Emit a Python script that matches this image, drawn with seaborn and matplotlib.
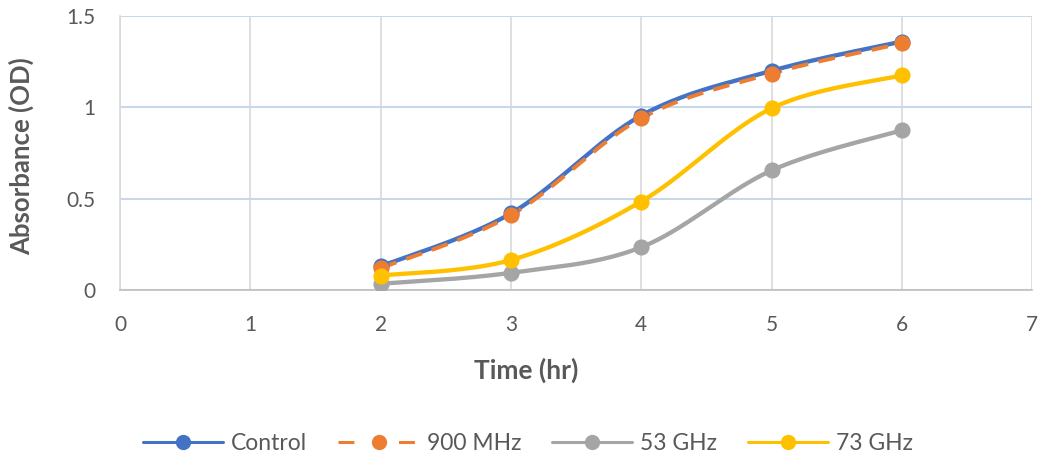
import numpy as np
import pandas as pd
import seaborn as sns
import matplotlib.pyplot as plt
from matplotlib.lines import Line2D

# Data
time_hr = [2, 3, 4, 5, 6]
control = [0.13, 0.42, 0.955, 1.20, 1.36]
mhz_900 = [0.12, 0.41, 0.94, 1.185, 1.35]
ghz_53 = [0.035, 0.095, 0.235, 0.655, 0.875]
ghz_73 = [0.08, 0.165, 0.485, 0.995, 1.175]

series_names = ['Control', '900 MHz', '53 GHz', '73 GHz']
series_values = [control, mhz_900, ghz_53, ghz_73]
colors = ['#4472C4', '#ED7D31', '#A5A5A5', '#FFC000']


def smooth(x, y, n=40):
    # Catmull-Rom style smoothing, like Excel's "smoothed line"
    x = np.asarray(x, float)
    y = np.asarray(y, float)
    px = np.concatenate([[x[0]], x, [x[-1]]])
    py = np.concatenate([[y[0]], y, [y[-1]]])
    xs, ys = [], []
    t = np.linspace(0, 1, n)
    for i in range(1, len(px) - 2):
        p0x, p1x, p2x, p3x = px[i - 1:i + 3]
        p0y, p1y, p2y, p3y = py[i - 1:i + 3]
        c1x, c1y = p1x + (p2x - p0x) / 6, p1y + (p2y - p0y) / 6
        c2x, c2y = p2x - (p3x - p1x) / 6, p2y - (p3y - p1y) / 6
        bx = (1 - t) ** 3 * p1x + 3 * (1 - t) ** 2 * t * c1x + 3 * (1 - t) * t ** 2 * c2x + t ** 3 * p2x
        by = (1 - t) ** 3 * p1y + 3 * (1 - t) ** 2 * t * c1y + 3 * (1 - t) * t ** 2 * c2y + t ** 3 * p2y
        xs.extend(bx)
        ys.extend(by)
    return xs, ys


sns.set_style('white')
plt.rcParams['font.family'] = ['Lato', 'DejaVu Sans']

fig = plt.figure(figsize=(10.4, 4.57), dpi=100)
ax = fig.add_axes([0.1154, 0.365, 0.877, 0.600])

for name, vals, col in zip(series_names, series_values, colors):
    sx, sy = smooth(time_hr, vals)
    curve = pd.DataFrame({'x': sx, 'y': sy})
    pts = pd.DataFrame({'x': time_hr, 'y': vals})
    if name == '900 MHz':
        sns.lineplot(data=curve, x='x', y='y', ax=ax, color=col, linewidth=2.8,
                     linestyle=(0, (4.3, 2.7)), sort=False, estimator=None, zorder=3)
    else:
        sns.lineplot(data=curve, x='x', y='y', ax=ax, color=col, linewidth=3.1,
                     sort=False, estimator=None, zorder=3)
    sns.scatterplot(data=pts, x='x', y='y', ax=ax, color=col, s=135,
                    edgecolor=col, linewidth=0, zorder=4)

ax.set_xlim(0, 7)
ax.set_ylim(0, 1.5)
ax.set_xticks(range(0, 8))
ax.set_yticks([0, 0.5, 1, 1.5])
ax.set_yticklabels(['0', '0.5', '1', '1.5'])

ax.xaxis.grid(True, color='#D9D9D9', linewidth=1.2)
ax.yaxis.grid(True, color='#C9D7EB', linewidth=1.5)
ax.set_axisbelow(True)
for side in ['top', 'right']:
    ax.spines[side].set_visible(False)
ax.spines['left'].set_color('#D9D9D9')
ax.spines['bottom'].set_color('#BFBFBF')
ax.spines['left'].set_linewidth(1.2)
ax.spines['bottom'].set_linewidth(1.2)

ax.tick_params(axis='both', length=0, labelsize=15, labelcolor='#595959', pad=17.5)
ax.set_xlabel('Time (hr)', fontsize=19, fontweight='bold', color='#595959')
ax.set_ylabel('Absorbance (OD)', fontsize=18.5, fontweight='bold', color='#595959')
ax.xaxis.set_label_coords(0.445, -0.245)
ax.yaxis.set_label_coords(-0.094, 0.49)

handles = []
for name, col in zip(series_names, colors):
    if name == '900 MHz':
        h = Line2D([], [], color=col, linewidth=2.2, linestyle=(0, (5.2, 14.6)),
                   marker='o', markersize=11, markeredgewidth=0)
    else:
        h = Line2D([], [], color=col, linewidth=2.2,
                   marker='o', markersize=11, markeredgewidth=0)
    handles.append(h)
leg = fig.legend(handles, series_names, loc='center', bbox_to_anchor=(0.508, 0.03),
                 ncol=4, frameon=False, fontsize=16.5, handlelength=3.5,
                 columnspacing=1.35, handletextpad=0.35)
for t in leg.get_texts():
    t.set_color('#595959')

fig.savefig('out.png', dpi=100)
